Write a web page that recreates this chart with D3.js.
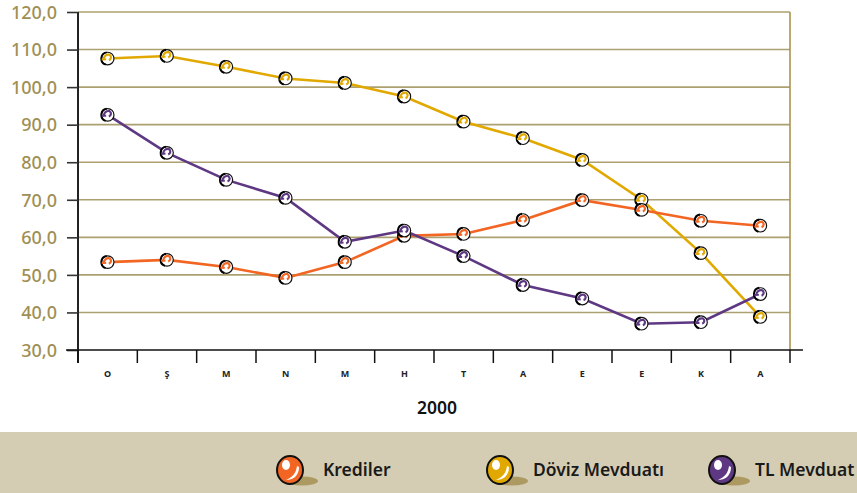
<!DOCTYPE html>
<html><head><meta charset="utf-8">
<script src="https://cdn.jsdelivr.net/npm/d3@7"></script>
<style>body{margin:0;background:#fff;}svg{display:block;}</style>
</head><body>
<svg id="chart" width="857" height="493"></svg>
<script>
const months = ["O","Ş","M","N","M","H","T","A","E","E","K","A"];
const krediler = [53.4, 54.0, 52.1, 49.2, 53.4, 60.4, 60.9, 64.6, 69.9, 67.3, 64.4, 63.1];
const doviz = [107.6, 108.3, 105.4, 102.3, 101.1, 97.5, 90.8, 86.4, 80.6, 70.0, 55.8, 38.8];
const tl = [92.6, 82.5, 75.3, 70.5, 58.8, 61.8, 55.0, 47.3, 43.7, 37.0, 37.4, 44.9];
const yTicks = [30,40,50,60,70,80,90,100,110,120];
const seriesNames = ["Krediler","Döviz Mevduatı","TL Mevduat"];
const seriesColors = ["#f26522","#e1a900","#5e3883"];
const yearLabel = "2000";

(function(){
const svg = d3.select("#chart");
const pL = 78, pR = 790, pT = 12, pB = 350;
const x = d3.scaleBand().domain(d3.range(months.length)).range([pL, pR]).padding(0);
const y = d3.scaleLinear().domain([30,120]).range([pB, pT]);
const font = "'Noto Sans', 'Open Sans', sans-serif";

// gridlines
svg.append("g").selectAll("line").data(yTicks.filter(d=>d>30)).join("line")
  .attr("x1", pL).attr("x2", pR).attr("y1", d=>y(d)).attr("y2", d=>y(d))
  .attr("stroke", "#ada070").attr("stroke-width", 1.6);
// right border
svg.append("line").attr("x1", pR).attr("x2", pR).attr("y1", pT).attr("y2", pB)
  .attr("stroke", "#a89550").attr("stroke-width", 1.6);

// y axis
const yAxis = d3.axisLeft(y).tickValues(yTicks).tickSize(11).tickPadding(10)
  .tickFormat(d => d3.format(".1f")(d).replace(".", ","));
const gy = svg.append("g").attr("transform", `translate(${pL},0)`).call(yAxis);
gy.select(".domain").attr("stroke", "#222").attr("stroke-width", 2).attr("d", `M0,${pT}V${pB+13}`);
gy.selectAll(".tick line").attr("stroke", "#333").attr("stroke-width", 1.6);
gy.selectAll(".tick text").attr("fill", "#a08f55").attr("font-family", font)
  .attr("font-size", 18).attr("font-weight", 500).attr("dy", "0.35em");

// x axis
const xEdges = d3.range(months.length + 1).map(i => i < months.length ? x(i) : pR);
const gx = svg.append("g");
gx.append("line").attr("x1", 66).attr("x2", 803).attr("y1", pB).attr("y2", pB)
  .attr("stroke", "#111").attr("stroke-width", 1.6);
gx.selectAll("line.tk").data(xEdges).join("line").attr("class","tk")
  .attr("x1", d=>d).attr("x2", d=>d).attr("y1", pB).attr("y2", pB+13)
  .attr("stroke", "#111").attr("stroke-width", 1.5);
gx.selectAll("text").data(months).join("text")
  .attr("x", (d,i)=>x(i)+x.bandwidth()/2).attr("y", pB+27)
  .attr("text-anchor","middle").attr("font-family", font).attr("font-size", 9)
  .attr("font-weight", 700).attr("fill", "#222").text(d=>d);

svg.append("text").attr("x", 437).attr("y", 414).attr("text-anchor","middle")
  .attr("font-family", font).attr("font-size", 17.5).attr("font-weight", 600)
  .attr("fill", "#111").text(yearLabel);

// lines
const allSeries = [krediler, doviz, tl];
const line = d3.line().x((d,i)=>x(i)+x.bandwidth()/2).y(d=>y(d));
const drawOrder = [1, 0, 2];
drawOrder.forEach(si => {
  svg.append("path").datum(allSeries[si]).attr("d", line).attr("fill","none")
    .attr("stroke", seriesColors[si]).attr("stroke-width", 2.6);
});
drawOrder.forEach(si => {
  const g = svg.append("g");
  const pts = g.selectAll("g").data(allSeries[si]).join("g")
    .attr("transform", (d,i)=>`translate(${x(i)+x.bandwidth()/2},${y(d)})`);
  pts.append("circle").attr("r", 6.3).attr("fill", "#fff").attr("stroke", "#111").attr("stroke-width", 1.2);
  pts.append("path").attr("d", "M-2,6 A6.3,6.3 0 0 1 -1,-6.2").attr("fill","none")
    .attr("stroke", "#000").attr("stroke-width", 2);
  pts.append("path").attr("d", "M-4,1.5 C-4.2,-2.5 -1,-4.3 1.8,-3.8 C4,-2.5 3.8,0.6 1.2,1.6")
    .attr("fill","none").attr("stroke", seriesColors[si]).attr("stroke-width", 2.2);
  pts.append("line").attr("x1",-6).attr("x2",-1.5).attr("y1",0.8).attr("y2",0.8)
    .attr("stroke", seriesColors[si]).attr("stroke-width", 2);
});

// legend band
svg.append("rect").attr("x",0).attr("y",432).attr("width",857).attr("height",61).attr("fill","#d5cdb3");
const legX = [290, 500, 722];
const lg = svg.append("g").selectAll("g").data(seriesNames).join("g")
  .attr("transform", (d,i)=>`translate(${legX[i]},470)`);
lg.append("ellipse").attr("cx", 12).attr("cy", 11).attr("rx", 16).attr("ry", 4.5).attr("fill", "#ad9a62");
lg.append("ellipse").attr("rx", 13).attr("ry", 14).attr("fill", (d,i)=>seriesColors[i])
  .attr("stroke", "#111").attr("stroke-width", 2);
lg.append("ellipse").attr("cx", -4).attr("cy", -5).attr("rx", 4).attr("ry", 5).attr("fill", "#fff");
lg.append("path").attr("d", "M9,-3 C9,6 3,10 -4,10 C3,7 6,3 7,-4 Z").attr("fill", "#fff");
lg.append("text").attr("x", 33).attr("y", 6).attr("font-family", font).attr("font-size", 17.5)
  .attr("font-weight", 600).attr("fill", "#1a1a1a").text(d=>d);
})();
</script>
</body></html>
